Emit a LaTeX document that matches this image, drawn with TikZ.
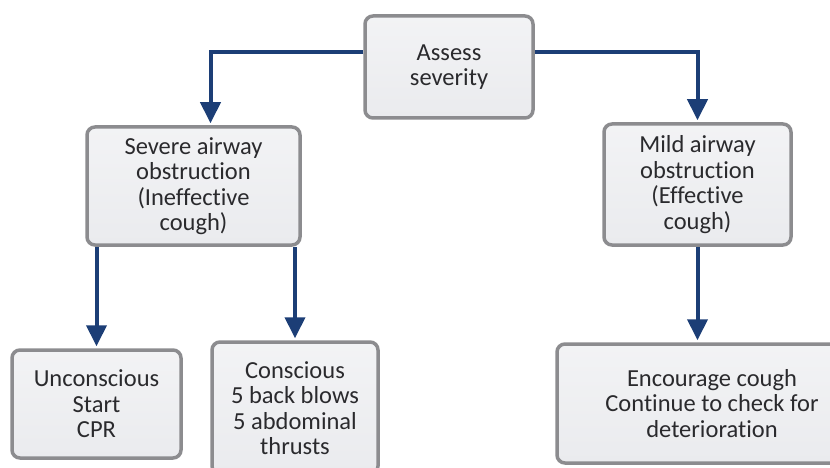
\documentclass[tikz,border=0pt]{standalone}
\usepackage{fontspec}
\setmainfont[Ligatures=NoCommon]{Carlito}
\usepackage{tikz}
\usetikzlibrary{arrows.meta, positioning, calc}
\definecolor{airwayblue}{RGB}{28,62,118}
\definecolor{boxgray}{RGB}{140,140,143}
\definecolor{boxfill}{RGB}{234,235,238}
\definecolor{textgray}{RGB}{42,42,45}

\begin{document}
\begin{tikzpicture}[
    x=1pt, y=-1pt,
    box/.style={rectangle, draw=boxgray, line width=3.5pt, top color=boxfill!60, bottom color=boxfill, rounded corners=8pt, align=center, inner sep=0pt, text=textgray, font=\fontsize{24.5}{25.5}\selectfont},
    arrow/.style={-{Triangle[width=20pt,length=21pt]}, line width=4pt, airwayblue, shorten >=2pt}
]
\clip (0,0) rectangle (830,468);

\node[box, minimum width=168pt, minimum height=102pt] (assess) at (449,67) {Assess\\severity};
\node[box, minimum width=213pt, minimum height=118pt] (severe) at (193.5,186) {Severe airway\\obstruction\\(Ineffective\\cough)};
\node[box, minimum width=187pt, minimum height=121pt] (mild) at (697.5,184.5) {Mild airway\\obstruction\\(Effective\\cough)};
\node[box, minimum width=169pt, minimum height=108pt] (uncons) at (96.5,404) {Unconscious\\Start\\CPR};
\node[box, minimum width=166pt, minimum height=132pt] (cons) at (295,408) {Conscious\\5 back blows\\5 abdominal\\thrusts};
\node[box, minimum width=310pt, minimum height=119pt] (encourage) at (712,403.5) {Encourage cough\\Continue to check for\\deterioration};

\draw[arrow] ([yshift=15pt]assess.west) -| ([xshift=17pt]severe.north);
\draw[arrow] ([yshift=15pt]assess.east) -| (mild.north);
\draw[arrow] (severe.south -| uncons.north) -- (uncons.north);
\draw[arrow] (severe.south -| cons.north) -- (cons.north);
\draw[arrow] (mild.south) -- (mild.south |- encourage.north);

\end{tikzpicture}
\end{document}
